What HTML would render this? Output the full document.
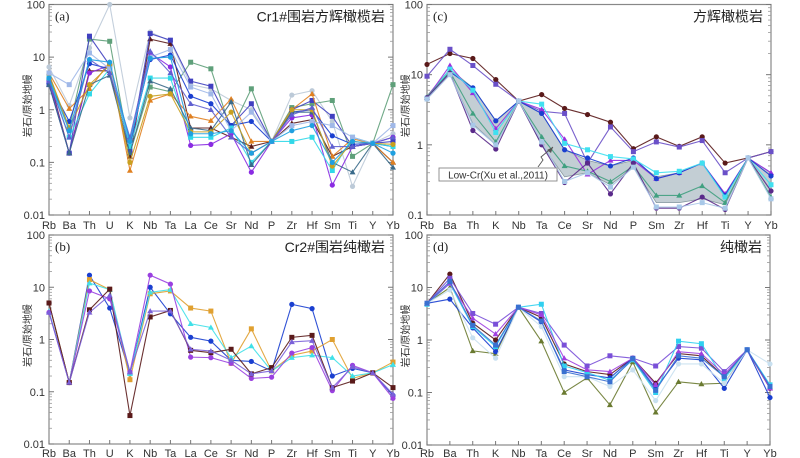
<!DOCTYPE html>
<html><head><meta charset="utf-8"><style>
html,body{margin:0;padding:0;background:#fff;}
svg{display:block;font-family:"Liberation Sans","Noto Sans CJK SC",sans-serif;}
</style></head><body>
<svg id="fig" width="800" height="458" viewBox="0 0 800 458" xmlns="http://www.w3.org/2000/svg"></svg>
<script>
const catsA = ["Rb","Ba","Th","U","K","Nb","Ta","La","Ce","Sr","Nd","P","Zr","Hf","Sm","Ti","Y","Yb"];
const catsC = ["Rb","Ba","Th","K","Nb","Ta","Ce","Sr","Nd","P","Sm","Zr","Hf","Ti","Y","Yb"];
const ticksA = [100,10,1,0.1,0.01];
const ticksC = [100,10,1,0.1];
const tickLabelsA = ["100","10","1","0.1","0.01"];
const tickLabelsC = ["100","10","1","0.1"];

const seriesAVals = [
 [6.5,1.2,15,100,0.7,30,20,3,2.5,1.5,1,0.25,1.9,2.3,0.6,0.035,0.23,0.35],
 [4.5,0.45,22,20,0.15,2.7,2.2,8,6,0.4,2.5,0.25,1.1,1.3,1.5,0.13,0.23,3],
 [4,0.15,5.5,5.5,0.13,22,18,0.45,0.45,0.3,0.2,0.25,0.55,0.65,0.13,0.2,0.23,0.1],
 [3.5,0.15,5,7,0.2,12,6.5,0.21,0.22,0.35,0.065,0.25,0.7,0.8,0.037,0.2,0.23,0.3],
 [3,0.15,25,7,0.17,28,21,3.5,2.8,0.5,1.3,0.25,1,1.5,0.75,0.2,0.23,0.25],
 [5,1.05,2.5,8,0.07,1.5,2,0.75,0.62,1.6,0.25,0.25,1,2,0.13,0.28,0.23,0.1],
 [3.2,0.6,7.5,6,0.25,9,11,1.8,1.3,0.5,0.6,0.25,0.9,1,0.32,0.22,0.23,0.2],
 [4,0.3,2,6,0.2,4,4,0.3,0.3,0.45,0.1,0.25,0.25,0.3,0.07,0.3,0.23,0.2],
 [3,0.15,3,4.5,0.15,3.5,2.5,0.45,0.4,1.4,0.09,0.25,0.9,0.9,0.1,0.065,0.23,0.08],
 [4.8,0.45,3,7,0.1,1.8,2,0.38,0.38,0.9,0.15,0.25,1,1,0.085,0.25,0.23,0.22],
 [5,3,12,6,0.25,10,14,2.7,2,0.4,0.9,0.25,0.5,0.6,0.5,0.3,0.23,0.5],
 [3.5,0.3,9,5,0.3,13,5,1.3,1,0.3,0.15,0.25,0.8,1.1,0.2,0.2,0.23,0.3],
 [4,0.4,9,8,0.25,9.5,10,0.35,0.35,0.4,0.15,0.25,0.4,0.5,0.1,0.25,0.23,0.15]
];
const seriesAColors = ["#bccad8","#5fa07a","#5a1a1a","#8a2be2","#4040c0","#e08020","#1a3fd0","#30d8e8","#3a6a8a","#c8a020","#a0b8e8","#6060d0","#20a0e0"];

const seriesBVals = [
 [5,0.15,17,4,0.22,10,3.1,1.1,0.93,0.4,0.38,0.25,4.7,3.9,0.2,0.28,0.23,0.085],
 [5,0.15,14,9,0.17,7.5,8.5,4,3.5,0.35,1.6,0.25,0.5,0.6,1,0.18,0.23,0.37],
 [3.5,0.15,12,9,0.22,8,9,2,1.7,0.45,0.75,0.25,0.45,0.5,0.45,0.2,0.23,0.33],
 [3.3,0.15,8.5,6,0.24,17,11.5,0.46,0.45,0.35,0.18,0.19,0.55,0.7,0.105,0.32,0.23,0.075],
 [5,0.15,3.7,9.2,0.035,2.7,3.6,0.62,0.56,0.65,0.22,0.29,1.1,1.2,0.12,0.16,0.23,0.12],
 [3.3,0.15,3.3,7,0.24,3.5,3.5,0.65,0.6,0.4,0.22,0.25,0.9,0.95,0.12,0.3,0.23,0.09]
];
const seriesBColors = ["#1a3fd0","#e0a030","#40e0e8","#9a40e0","#5a1a1a","#7a60d8"];

const bandUpper = [5,12,6.5,2.2,4.2,2.8,0.85,0.6,0.5,0.6,0.35,0.4,0.55,0.2,0.65,0.4];
const bandLower = [4.5,10,2,1,4.2,1,0.35,0.4,0.27,0.48,0.15,0.15,0.17,0.14,0.65,0.18];
const seriesCVals = [
 [14,20,17,8.5,4.2,5.2,3.3,2.7,2.1,0.88,1.3,0.95,1.3,0.55,0.65,0.8],
 [9.5,23,13.5,7.3,4.2,3,2.8,0.55,1.8,0.8,1.1,0.93,1.15,0.4,0.65,0.8],
 [4.7,13.5,5.5,1.7,4.2,3.2,1.2,0.38,0.6,0.6,0.33,0.4,0.55,0.2,0.65,0.4],
 [4.7,11,6.5,2.2,4.2,2.8,0.85,0.65,0.5,0.65,0.33,0.4,0.55,0.19,0.65,0.36],
 [4.6,12,6,1.5,4.2,3.8,1.05,0.85,0.68,0.63,0.4,0.42,0.55,0.18,0.65,0.27],
 [4.8,11,2.8,1.1,4.2,1.3,0.5,0.42,0.3,0.5,0.19,0.19,0.26,0.15,0.65,0.18],
 [4.7,10.5,1.6,0.87,4.2,1,0.29,0.55,0.2,0.55,0.125,0.125,0.18,0.12,0.65,0.22],
 [4.5,10,1.9,1,4.2,1.1,0.3,0.4,0.25,0.48,0.13,0.13,0.15,0.125,0.65,0.17]
];
const seriesCColors = ["#5a1a1a","#6a50c8","#9a30e0","#1a3fd0","#40e0f0","#40a080","#5a2a8a","#a8c8e8"];

const seriesDVals = [
 [5,18,2.1,1,4.2,2.7,0.35,0.25,0.22,0.45,0.15,0.55,0.5,0.2,0.65,0.12],
 [5,15,3.2,2,4.2,3.2,0.8,0.32,0.5,0.45,0.32,0.75,0.7,0.25,0.65,0.13],
 [5,10,0.62,0.55,4.2,0.95,0.1,0.19,0.058,0.38,0.042,0.16,0.145,0.15,0.65,0.12],
 [5,6,1.7,0.6,4.2,2.2,0.27,0.22,0.19,0.45,0.12,0.45,0.42,0.12,0.65,0.08],
 [4.8,12,1.8,0.75,4.2,4.8,0.32,0.24,0.17,0.42,0.1,0.95,0.85,0.18,0.65,0.14],
 [5,12,2.6,1.3,4.2,3,0.45,0.27,0.25,0.45,0.14,0.6,0.55,0.22,0.65,0.12],
 [5,9,1.1,0.45,4.2,1.8,0.2,0.2,0.13,0.27,0.07,0.35,0.35,0.15,0.65,0.35],
 [5,13,1.9,0.8,4.2,2.3,0.25,0.2,0.16,0.44,0.11,0.5,0.45,0.2,0.65,0.13]
];
const seriesDColors = ["#5a1a1a","#7a50d8","#6a7a30","#1a3fd0","#30d0f0","#a040e0","#c8e0f0","#3a70d0"];

const NS = "http://www.w3.org/2000/svg";
const fig = document.getElementById("fig");
function mk(tag, attrs, parent){ const e=document.createElementNS(NS,tag); for(const k in attrs) e.setAttribute(k,attrs[k]); (parent||fig).appendChild(e); return e; }

function panel(cfg){
  const g = mk("g",{});
  
  
  const {x0,x1,yTop,yBot,maxV,minV,cats} = cfg;
  const dec = Math.log10(maxV)-Math.log10(minV);
  const y = v => yTop + (Math.log10(maxV)-Math.log10(v))/dec*(yBot-yTop);
  const x = i => x0 + i*(x1-x0)/(cats.length-1);
  // frame
  const fr = mk("rect",{x:x0,y:yTop,width:x1-x0,height:yBot-yTop,fill:"none",stroke:"#888","stroke-width":1.2},g);
  
  
  // y ticks
  cfg.ticks.forEach((t,i)=>{
    const yy=y(t);
    mk("line",{x1:x0,x2:x0+5,y1:yy,y2:yy,stroke:"#777"},g);
    mk("line",{x1:x1,x2:x1-5,y1:yy,y2:yy,stroke:"#777"},g);
    const tx=mk("text",{x:x0-4,y:yy+4,"text-anchor":"end","font-size":11,fill:"#333"},g);
    tx.textContent=cfg.tickLabels[i];
    
    
    if(t>minV){ for(let m=2;m<=9;m++){ const yy2=y(t/10*m); mk("line",{x1:x0,x2:x0+3,y1:yy2,y2:yy2,stroke:"#999","stroke-width":0.8},g); mk("line",{x1:x1,x2:x1-3,y1:yy2,y2:yy2,stroke:"#999","stroke-width":0.8},g);} }
  });
  // x ticks / labels
  cats.forEach((c,i)=>{
    const xx=x(i);
    mk("line",{x1:xx,x2:xx,y1:yBot,y2:yBot-4,stroke:"#777"},g);
    const tx=mk("text",{x:xx,y:cfg.labelY,"text-anchor":"middle","font-size":11,fill:"#333"},g);
    tx.textContent=c;
    
    
  });
  // band
  if(cfg.band){
    let d="M"+cfg.band.up.map((v,i)=>x(i)+","+y(v)).join(" L");
    for(let i=cfg.band.lo.length-1;i>=0;i--) d+=" L"+x(i)+","+y(cfg.band.lo[i]);
    const p=mk("path",{d:d+"Z",fill:"#b8c6cc",stroke:"#8899a0","stroke-width":0.8,"fill-opacity":0.85},g);
    
    
  }
  // series
  cfg.vals.forEach((vals,si)=>{
    const col=cfg.colors[si];
    const pl=mk("polyline",{points:vals.map((v,i)=>x(i)+","+y(v)).join(" "),fill:"none",stroke:col,"stroke-width":1.1,"stroke-opacity":0.9},g);
    
    
    vals.forEach((v,i)=>{
      const shape=si%3;
      let m;
      if(shape===0) m=mk("circle",{cx:x(i),cy:y(v),r:2.6,fill:col},g);
      else if(shape===1) m=mk("rect",{x:x(i)-2.5,y:y(v)-2.5,width:5,height:5,fill:col},g);
      else m=mk("path",{d:`M${x(i)},${y(v)-3} L${x(i)+3},${y(v)+2.2} L${x(i)-3},${y(v)+2.2}Z`,fill:col},g);
      
      
    });
  });
  // labels
  const pl=mk("text",{x:x0+6,y:yTop+16,"font-size":13,fill:"#222","font-family":"Liberation Serif, serif"},g);
  pl.textContent=cfg.letter;
  
  
  const tt=mk("text",{x:x1-8,y:yTop+17,"text-anchor":"end","font-size":14,fill:"#222"},g);
  tt.textContent=cfg.title;
  
  
  const yt=mk("text",{x:0,y:0,"text-anchor":"middle","font-size":10,fill:"#333",transform:`translate(${x0-18},${(yTop+yBot)/2-4}) rotate(-90)`},g);
  yt.textContent="岩石/原始地幔";
  
  
  return {x,y,g};
}

panel({name:"panel-a",x0:49,x1:393,yTop:4.5,yBot:215,maxV:100,minV:0.01,cats:catsA,ticks:ticksA,tickLabels:tickLabelsA,labelY:229,vals:seriesAVals,colors:seriesAColors,letter:"(a)",title:"Cr1#围岩方辉橄榄岩"});
const pc = panel({name:"panel-c",x0:427,x1:771,yTop:4.5,yBot:215,maxV:100,minV:0.1,cats:catsC,ticks:ticksC,tickLabels:tickLabelsC,labelY:229,vals:seriesCVals,colors:seriesCColors,letter:"(c)",title:"方辉橄榄岩",band:{up:bandUpper,lo:bandLower}});
panel({name:"panel-b",x0:49,x1:393,yTop:235,yBot:444,maxV:100,minV:0.01,cats:catsA,ticks:ticksA,tickLabels:tickLabelsA,labelY:457,vals:seriesBVals,colors:seriesBColors,letter:"(b)",title:"Cr2#围岩纯橄岩"});
panel({name:"panel-d",x0:427,x1:770,yTop:235,yBot:445,maxV:100,minV:0.01,cats:catsC,ticks:ticksA,tickLabels:tickLabelsA,labelY:457,vals:seriesDVals,colors:seriesDColors,letter:"(d)",title:"纯橄岩"});

// annotation in panel c
const ann = mk("g",{});


mk("path",{d:"M538,167 L543,160 L541,157 L553,147",fill:"none",stroke:"#555","stroke-width":0.9},ann);
mk("path",{d:"M553,147 L547,150 L551,153Z",fill:"#555"},ann);
mk("rect",{x:439,y:168,width:118,height:13,fill:"#fff",stroke:"#888","stroke-width":0.9},ann);
const at=mk("text",{x:498,y:178.5,"text-anchor":"middle","font-size":10,fill:"#333"},ann);
at.textContent="Low-Cr(Xu et al.,2011)";
</script>
</body></html>
